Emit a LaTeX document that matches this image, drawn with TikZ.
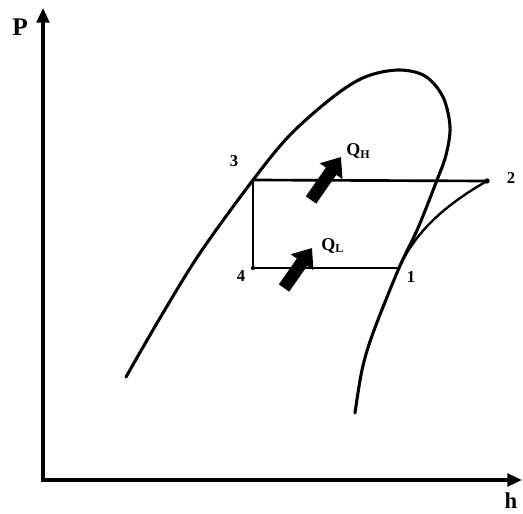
\documentclass[tikz,border=0pt]{standalone}
\usepackage{fontspec}
\setmainfont{Liberation Serif}
\usetikzlibrary{arrows.meta}
\tikzset{
  axis/.style={line width=2.4pt,-{Triangle[length=11pt,width=9.5pt]}},
  dome/.style={line width=2.3pt,line cap=round},
  cycle/.style={line width=2pt},
  heat/.style={line width=9.5pt,-{Triangle[length=13pt,width=20pt]}},
  lbl/.style={font=\bfseries\fontsize{12.5}{14}\selectfont,inner sep=0pt},
  big/.style={font=\bfseries\fontsize{19}{21}\selectfont,inner sep=0pt}
}
\begin{document}
\begin{tikzpicture}[x=0.75pt,y=-0.75pt]
\useasboundingbox (0,0) rectangle (523,513);
% axes
\coordinate (O) at (43,480);
\coordinate (Ptop) at (43,8);
\coordinate (Hend) at (522,480);
\draw[axis] (O) -- (Ptop);
\draw[axis] ([xshift=-1.2pt]O) -- (Hend);
\node[big] (P) at (20,27) {P};
\node[big,font=\bfseries\fontsize{17}{19}\selectfont,anchor=south] (h) at (511,509) {h};
% states
\coordinate (s1) at (399,268);
\coordinate (s2) at (487,181);
\coordinate (s3) at (253,180);
\coordinate (s4) at (253,268);
% saturation dome
\draw[dome] plot[smooth,tension=0.55] coordinates {(126,377) (160,318) (200,253) (253,180) (290,135) (333,97) (365,77) (398,70) (425,76) (443,97) (450,127) (446,155) (437,180) (418,228) (399,268) (373,333) (362,370) (355,413)};
% cycle
\draw[cycle] (s4) -- (s1);
\draw[cycle] (s3) -- (s2);
\draw[cycle] (s3) -- (s4);
\draw[line width=1.8pt] (s1) .. controls (415,232) and (445,205) .. (s2);
\fill (s2) circle (2pt);
\fill (s4) circle (1.6pt);
% labels
\node[lbl] (n3) at (234,161) {3};
\node[lbl] (n2) at (511,178) {2};
\node[lbl] (n4) at (241,276) {4};
\node[lbl] (n1) at (411,277) {1};
\node[lbl,anchor=base west,font=\bfseries\fontsize{13.5}{15}\selectfont] (QH) at (346,156) {Q\raisebox{-0.35ex}{\fontsize{9}{10}\selectfont H}};
\node[lbl,anchor=base west,font=\bfseries\fontsize{13.5}{15}\selectfont] (QL) at (321,250) {Q\raisebox{-0.35ex}{\fontsize{9}{10}\selectfont L}};
% heat arrows
\coordinate (qht) at (311,200);
\coordinate (qhh) at (341,157);
\coordinate (qlt) at (284,288);
\coordinate (qlh) at (312,248);
\draw[heat] (qht) -- (qhh);
\draw[heat] (qlt) -- (qlh);
\end{tikzpicture}
\end{document}
